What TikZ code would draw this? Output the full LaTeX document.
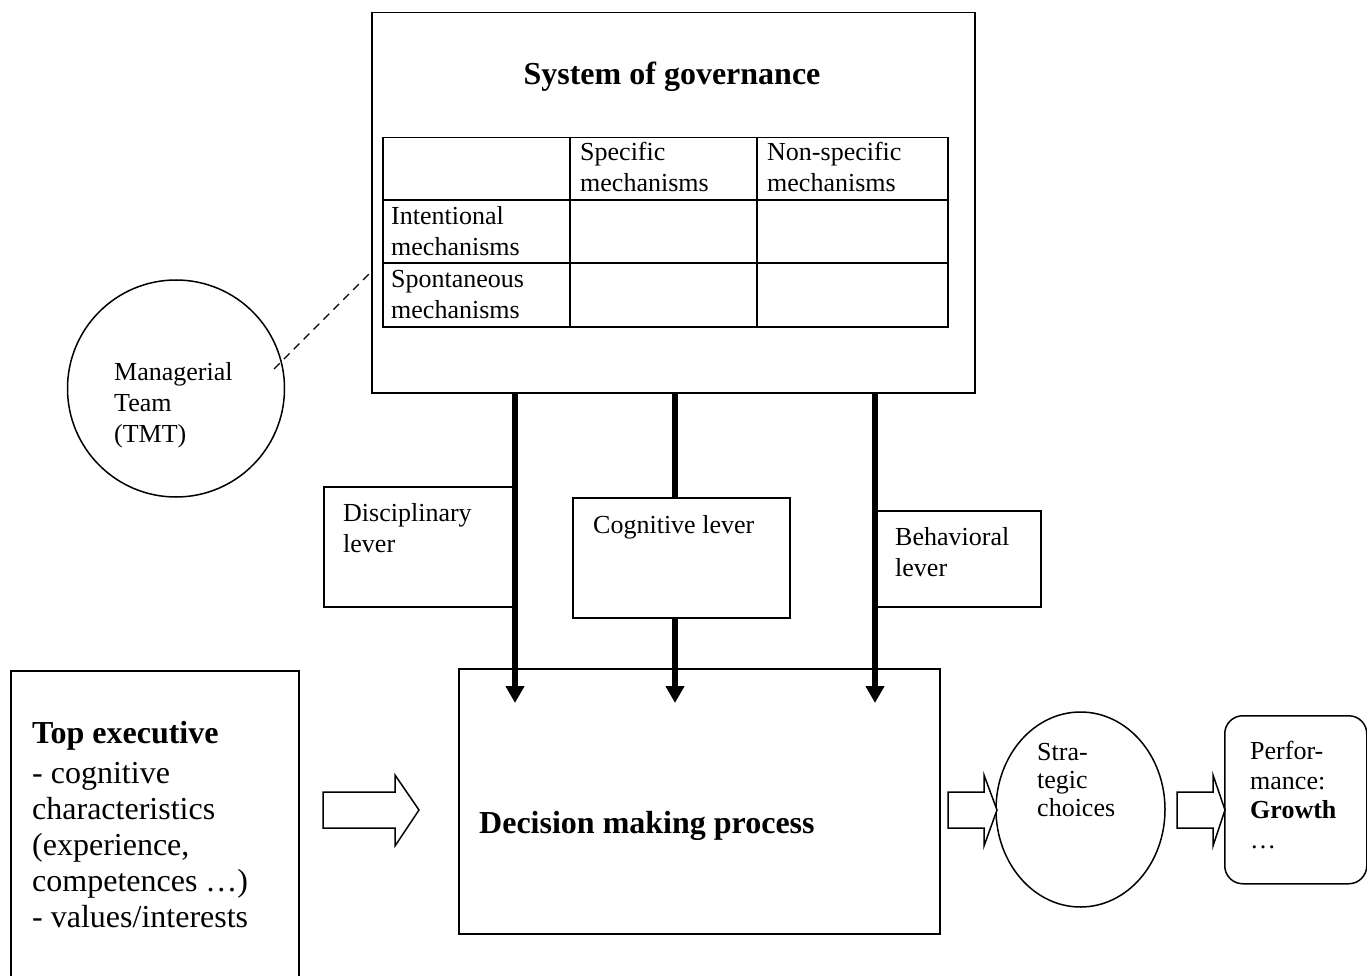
\documentclass[tikz,border=0pt]{standalone}
\usepackage{fontspec}
\setmainfont{Liberation Serif}
\usetikzlibrary{shapes.geometric,arrows.meta}
\begin{document}
\begin{tikzpicture}[x=1pt,y=-1pt,
  frame/.style={draw, line width=1.5pt, inner sep=0pt, anchor=north west, fill=white},
  tline/.style={line width=1.5pt},
  ts/.style={font=\fontsize{26}{31}\selectfont, align=left, anchor=base west, inner sep=0pt},
  tl/.style={font=\fontsize{32}{36}\selectfont, align=left, anchor=base west, inner sep=0pt},
  lever/.style={line width=6pt, -{Triangle[length=17pt,width=18pt]}},
  lbar/.style={line width=6pt},
  blockarrow/.style={draw, line width=1.5pt, fill=white, line join=miter}
]
\useasboundingbox (0,0) rectangle (1367,976);

% system of governance
\node[frame, minimum width=603pt, minimum height=380pt] (gov) at (371,12) {};
\node[tl, anchor=base] (govtitle) at (672,85) {\textbf{System of governance}};
\node[draw, tline, inner sep=0pt, anchor=north west, minimum width=565pt, minimum height=189pt] (tbl) at (382,137) {};
\draw[tline] (570,137) -- (570,326);
\draw[tline] (757,137) -- (757,326);
\draw[tline] (382,200) -- (947,200);
\draw[tline] (382,263) -- (947,263);
% multi-line texts: anchor is the baseline of the last line
\node[ts] (h1) at (580,192) {Specific\\mechanisms};
\node[ts] (h2) at (767,192) {Non-specific\\mechanisms};
\node[ts] (r1) at (391,255) {Intentional\\mechanisms};
\node[ts] (r2) at (391,318) {Spontaneous\\mechanisms};

% managerial team
\node[circle, draw, line width=1.5pt, minimum size=217pt, inner sep=0pt] (tmt) at (176,388.5) {};
\node[ts] (tmttext) at (114,442) {Managerial\\Team\\(TMT)};
\coordinate (d1) at (274,369);
\coordinate (d2) at (371,272);
\draw[line width=1.3pt, dash pattern=on 8pt off 6pt] (d1) -- (d2);

% levers
\coordinate (a1) at (515,703);
\coordinate (a2) at (675,703);
\coordinate (a3) at (875,703);
\node[frame, minimum width=190pt, minimum height=120pt] (disc) at (323,486) {};
\node[ts] (disctext) at (343,552) {Disciplinary\\lever};
\node[frame, minimum width=217pt, minimum height=120pt] (cog) at (572,497) {};
\node[ts] (cogtext) at (593,533) {Cognitive lever};
\node[frame, minimum width=164pt, minimum height=96pt] (beh) at (876,510) {};
\node[ts] (behtext) at (895,576) {Behavioral\\lever};

% decision making
\node[frame, minimum width=481pt, minimum height=265pt] (dec) at (458,668) {};
\node[tl] (dectext) at (479,833) {\textbf{Decision making process}};

\draw[lever] (gov.south -| a1) -- (a1);
\draw[lbar] (gov.south -| a2) -- (cog.north -| a2);
\draw[lever] (cog.south -| a2) -- (a2);
\draw[lever] (gov.south -| a3) -- (a3);

% top executive
\draw[tline] (11,976) -- (11,671) -- (299,671) -- (299,976);
\node[tl] (toptitle) at (32,743) {\textbf{Top executive}};
\node[tl] (toptext) at (32,927) {- cognitive\\characteristics\\(experience,\\competences …)\\- values/interests};

% strategic choices and performance
\node[ellipse, draw, line width=1.5pt, minimum width=169pt, minimum height=195pt, inner sep=0pt] (sc) at (1080.5,809.5) {};
\node[ts, font=\fontsize{26}{28}\selectfont] (sctext) at (1037,816) {Stra-\\tegic\\choices};
\node[frame, rounded corners=18pt, minimum width=142pt, minimum height=168pt] (perf) at (1224,715) {};
\node[ts, font=\fontsize{26}{29.5}\selectfont] (perftext) at (1250,848) {Perfor-\\mance:\\\textbf{Growth}\\…};

% block arrows
\draw[blockarrow] (323,792) -- (395,792) -- (395,775) -- (419,810) -- (395,846) -- (395,828) -- (323,828) -- cycle;
\draw[blockarrow] (948,792) -- (984,792) -- (984,775) -- (997,810) -- (984,846) -- (984,828) -- (948,828) -- cycle;
\draw[blockarrow] (1177,792) -- (1213,792) -- (1213,775) -- (1225,810) -- (1213,846) -- (1213,828) -- (1177,828) -- cycle;
\end{tikzpicture}
\end{document}
